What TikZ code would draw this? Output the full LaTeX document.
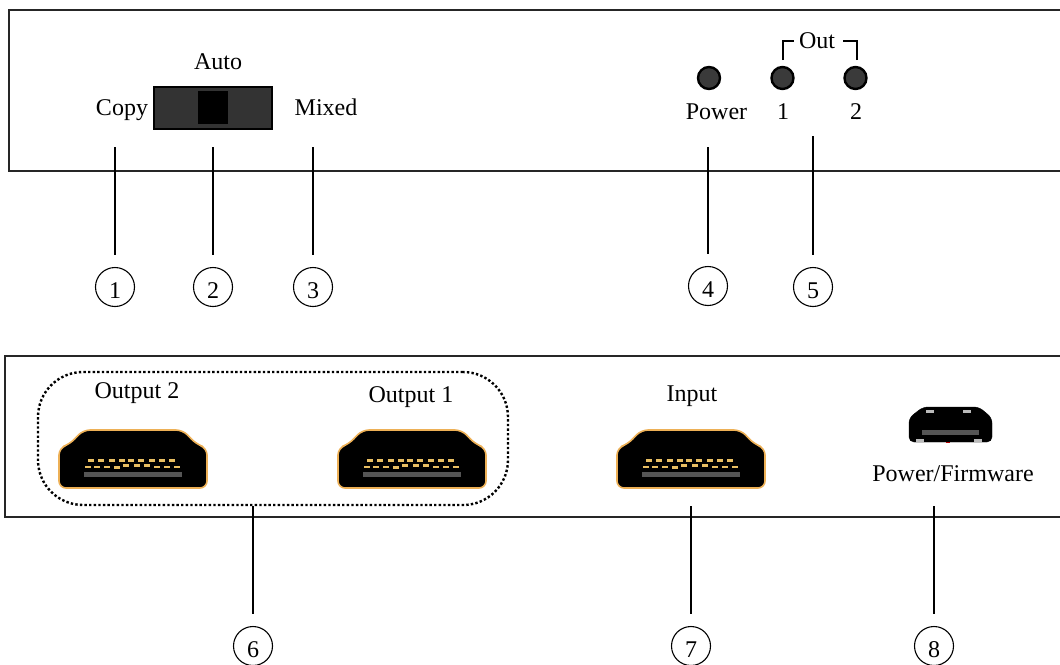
\documentclass[tikz,border=0pt]{standalone}
\usepackage{fontspec}
\setmainfont{Liberation Serif}
\definecolor{switchgrey}{HTML}{333333}
\definecolor{ledgrey}{HTML}{3A3A3A}
\definecolor{pingold}{HTML}{E8BE62}
\definecolor{rimgold}{HTML}{EDB056}
\definecolor{bargrey}{HTML}{555555}
\definecolor{tabgrey}{HTML}{BBBBBB}
\tikzstyle{caption} = [inner sep=0pt,anchor=base,font=\fontsize{24}{24}\selectfont]
\tikzstyle{numbered} = [circle,draw,line width=1.1pt,minimum size=39pt,inner sep=0pt,text height=23pt,text depth=0pt,font=\fontsize{24}{24}\selectfont]
\tikzstyle{panel} = [line width=1.2pt,color=black!85]
\tikzstyle{leader} = [line width=2.8pt,shorten >=12pt]
\tikzstyle{led} = [circle,draw=black,line width=2.4pt,fill=ledgrey,minimum size=22pt,inner sep=0pt]
\tikzstyle{bracket} = [line width=2.6pt]
\tikzstyle{slider} = [draw=black,line width=2.4pt,fill=switchgrey,minimum width=118pt,minimum height=42pt,inner sep=0pt]
\tikzstyle{knob} = [fill=black,minimum width=30pt,minimum height=33pt,inner sep=0pt]
\tikzstyle{grouping} = [draw,line width=2.4pt,dash pattern=on 2.4pt off 2.2pt,rounded corners=45pt,minimum width=470pt,minimum height=133pt,inner sep=0pt]
\tikzset{
	hdmi/.pic={
		\draw[rimgold,line width=1.6pt,fill=black,rounded corners=7pt] (-74,29) -- (-74,-11) -- (-63,-15) -- (-50,-29) -- (50,-29) -- (63,-15) -- (74,-11) -- (74,29) -- cycle;
		\foreach \x in {-42.5,-32,-21,-11,-2,8,19,29,39}
			\fill[pingold] (\x-3,-0.5) rectangle (\x+3,2.5);
		\foreach \x in {-44.7,-36.3,-26,24,34,44}
			\fill[pingold] (\x-3,7) rectangle (\x+3,8.5);
		\fill[pingold] (-19,7) rectangle (-13,10);
		\foreach \x in {-6.7,3.7,14}
			\fill[pingold] (\x-3,5) rectangle (\x+3,8);
		\fill[bargrey] (-49,13) rectangle (49,17.5);
	}
}

\begin{document}
\begin{tikzpicture}[x=1pt,y=-1pt]
	\useasboundingbox (0,0) rectangle (1060,664);
	
	% front panel
	\draw[panel] (1060,10) -- (9,10) -- (9,171) -- (1060,171);
	
	\node[caption] (auto) at (218,69) {Auto};
	\node[caption] (copy) at (122,115) {Copy};
	\node[caption] (mixed) at (326,115) {Mixed};
	\node[slider] (switch) at (213,108) {};
	\node[knob] (thumb) at (213,107.5) {};
	
	\node[led] (led4) at (709,78) {};
	\node[led] (led1) at (782.5,78) {};
	\node[led] (led2) at (855.5,78) {};
	\node[caption] (power) at (716.5,119) {Power};
	\node[caption] (out1) at (783,119) {1};
	\node[caption] (out2) at (856,119) {2};
	\node[caption] (out) at (817,48) {Out};
	\draw[bracket] (783,60) |- (794,41);
	\draw[bracket] (857,60) |- (843,41);
	
	\node[numbered] (n1) at (115,287) {1};
	\node[numbered] (n2) at (213,287) {2};
	\node[numbered] (n3) at (313,287) {3};
	\node[numbered] (n4) at (708,286) {4};
	\node[numbered] (n5) at (813,287) {5};
	
	\coordinate (t1) at (115,147);
	\coordinate (t2) at (213,147);
	\coordinate (t3) at (313,147);
	\coordinate (t4) at (708,147);
	\coordinate (t5) at (813,136);
	
	\draw[leader] (t1) -- (n1);
	\draw[leader] (t2) -- (n2);
	\draw[leader] (t3) -- (n3);
	\draw[leader] (t4) -- (n4);
	\draw[leader] (t5) -- (n5);
	
	% rear panel
	\draw[panel] (1060,356) -- (5,356) -- (5,517) -- (1060,517);
	
	\node[caption] (output2) at (137,398) {Output 2};
	\node[caption] (output1) at (411,402) {Output 1};
	\node[caption] (input) at (692,401) {Input};
	\node[caption] (firmware) at (953,481) {Power/Firmware};
	
	\pic at (133,459) {hdmi};
	\pic at (412,459) {hdmi};
	\pic at (691,459) {hdmi};
	
	% micro usb
	\draw[black,fill=black,rounded corners=5pt] (909,442) -- (909,418) -- (923,407) -- (979,407) -- (992,418) -- (992,442) -- cycle;
	\fill[bargrey] (922,430) rectangle (979,435);
	\fill[tabgrey] (926,409.5) rectangle (934,412.5);
	\fill[tabgrey] (963,409.5) rectangle (971,412.5);
	\fill[tabgrey] (916,438.5) rectangle (924,441.5);
	\fill[tabgrey] (974,438.5) rectangle (982,441.5);
	\fill[red!70!black] (946,442) rectangle (950,443);
	
	\node[grouping] (group) at (273,438.5) {};
	
	\node[numbered] (n6) at (253,646) {6};
	\node[numbered] (n7) at (691,646) {7};
	\node[numbered] (n8) at (934,646) {8};
	
	\coordinate (t7) at (691,506);
	\coordinate (t8) at (934,506);
	
	\draw[leader] (group.south -| n6) -- (n6);
	\draw[leader] (t7) -- (n7);
	\draw[leader] (t8) -- (n8);
\end{tikzpicture}
\end{document}
